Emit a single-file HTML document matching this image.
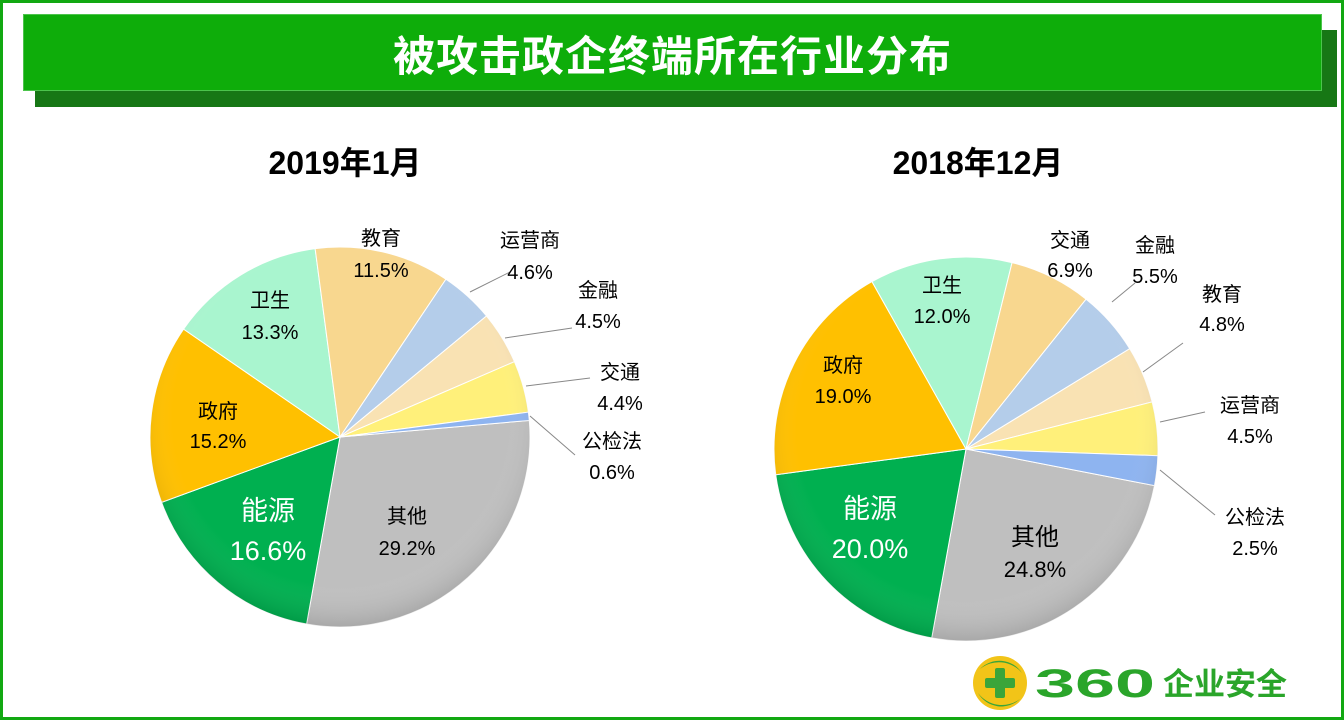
<!DOCTYPE html>
<html><head><meta charset="utf-8"><style>
html,body{margin:0;padding:0;background:#fff}
body{width:1344px;height:720px;position:relative;overflow:hidden;font-family:"Liberation Sans","Noto Sans CJK SC",sans-serif}
.frame{position:absolute;left:0;top:0;width:1338px;height:714px;border:3px solid #12a812}
.shadow{position:absolute;left:35px;top:30px;width:1302px;height:77px;background:#177715}
.bar{position:absolute;left:23px;top:14px;width:1299px;height:77px;background:#0ead0a;border:1px solid #4cc44c;box-sizing:border-box}
.bar div{color:#fff;font-weight:bold;font-size:42px;text-align:center;line-height:77px;font-family:"Noto Sans CJK SC",sans-serif;letter-spacing:1px}
svg{position:absolute;left:0;top:0}
</style></head><body>
<div class="frame"></div>
<div class="shadow"></div>
<div class="bar"><div>被攻击政企终端所在行业分布</div></div>
<svg width="1344" height="720" font-family="Liberation Sans, Noto Sans CJK SC, sans-serif">
<defs>
<radialGradient id="sh" cx="50%" cy="45%" r="55%"><stop offset="0.8" stop-color="#fff" stop-opacity="0"/><stop offset="1" stop-color="#000" stop-opacity="0.12"/></radialGradient>
</defs>
<g id="p1"></g><g id="p2"></g>
<text x="345" y="174" font-size="32" font-weight="bold" text-anchor="middle">2019年1月</text>
<text x="978" y="174" font-size="32" font-weight="bold" text-anchor="middle">2018年12月</text>
<g stroke="#888" stroke-width="1" fill="none">
<polyline points="470,292 510,272"/>
<polyline points="505,338 572,328"/>
<polyline points="526,386 590,378"/>
<polyline points="530,416 575,455"/>
<polyline points="1112,302 1135,283"/>
<polyline points="1143,372 1183,343"/>
<polyline points="1160,422 1205,412"/>
<polyline points="1160,470 1215,515"/>
</g>
<g font-size="20" text-anchor="middle" fill="#000">
<text x="381" y="245">教育</text><text x="381" y="277">11.5%</text>
<text x="530" y="247">运营商</text><text x="530" y="279">4.6%</text>
<text x="598" y="297">金融</text><text x="598" y="328">4.5%</text>
<text x="620" y="379">交通</text><text x="620" y="410">4.4%</text>
<text x="612" y="448">公检法</text><text x="612" y="479">0.6%</text>
<text x="270" y="307">卫生</text><text x="270" y="339">13.3%</text>
<text x="218" y="418">政府</text><text x="218" y="448">15.2%</text>
<text x="407" y="523">其他</text><text x="407" y="555">29.2%</text>
<text x="1070" y="247">交通</text><text x="1070" y="277">6.9%</text>
<text x="1155" y="252">金融</text><text x="1155" y="283">5.5%</text>
<text x="1222" y="301">教育</text><text x="1222" y="331">4.8%</text>
<text x="1250" y="412">运营商</text><text x="1250" y="443">4.5%</text>
<text x="1255" y="524">公检法</text><text x="1255" y="555">2.5%</text>
<text x="942" y="292">卫生</text><text x="942" y="323">12.0%</text>
<text x="843" y="372">政府</text><text x="843" y="403">19.0%</text>
<text x="1035" y="545" font-size="24">其他</text><text x="1035" y="577" font-size="22">24.8%</text>
</g>
<g font-size="27" text-anchor="middle" fill="#fff">
<text x="268" y="520">能源</text><text x="268" y="560">16.6%</text>
<text x="870" y="518">能源</text><text x="870" y="558">20.0%</text>
</g>
<g transform="translate(1000,683)">
<circle r="27" fill="#f2c418"/>
<path d="M-22,10 A27,27 0 0 0 20,16 A30,30 0 0 1 -22,10Z" fill="#3aa53a"/>
<path d="M-20,-14 A27,27 0 0 1 22,-10 A30,30 0 0 0 -20,-14Z" fill="#3aa53a"/>
<rect x="-5" y="-15" width="10" height="30" rx="2" fill="#3aa53a"/>
<rect x="-15" y="-5" width="30" height="10" rx="2" fill="#3aa53a"/>
</g>
<text x="1035" y="697" font-size="40" font-weight="bold" fill="#2aa52a" textLength="120" lengthAdjust="spacingAndGlyphs">360</text>
<text x="1163" y="695" font-size="31" font-weight="bold" fill="#2aa52a" font-family="Noto Sans CJK SC, sans-serif">企业安全</text>
</svg>
<script>
function pie(id,cx,cy,r,start,vals,cols){
  var g=document.getElementById(id),a=start*Math.PI/180,h='';
  for(var i=0;i<vals.length;i++){
    var b=a+vals[i]*3.6*Math.PI/180;
    var x1=cx+r*Math.cos(a),y1=cy+r*Math.sin(a),x2=cx+r*Math.cos(b),y2=cy+r*Math.sin(b);
    h+='<path d="M'+cx+','+cy+' L'+x1+','+y1+' A'+r+','+r+' 0 '+((b-a)>Math.PI?1:0)+' 1 '+x2+','+y2+' Z" fill="'+cols[i]+'" stroke="#fff" stroke-width="1"/>';
    a=b;
  }
  h+='<circle cx="'+cx+'" cy="'+cy+'" r="'+r+'" fill="url(#sh)"/>';
  g.innerHTML=h;
}
pie('p1',340,437,190,-5,[29.2,16.6,15.2,13.3,11.5,4.6,4.5,4.4,0.7],
 ['#bfbfbf','#00b050','#ffc000','#a9f5cf','#f8d78f','#b4cdea','#f9e2b3','#fff07a','#8eb4f0']);
pie('p2',966,449,192,11,[24.8,20,19,12,6.9,5.5,4.8,4.5,2.5],
 ['#bfbfbf','#00b050','#ffc000','#a9f5cf','#f8d78f','#b4cdea','#f9e2b3','#fff07a','#8eb4f0']);
</script>
</body></html>
